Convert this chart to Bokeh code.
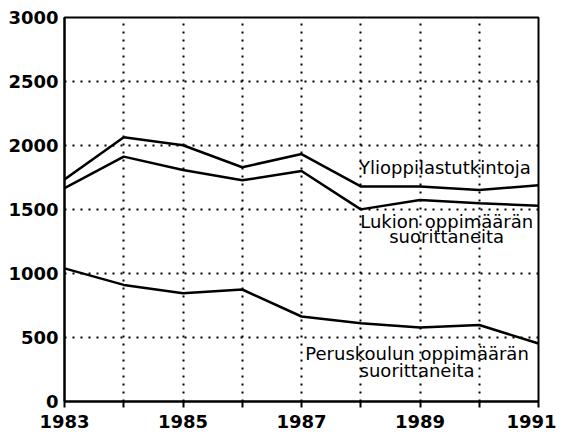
from bokeh.plotting import figure
from bokeh.models import Range1d, FixedTicker
from bokeh.embed import file_html
from bokeh.resources import INLINE
from bokeh.core.properties import value

years = [1983, 1984, 1985, 1986, 1987, 1988, 1989, 1990, 1991]
ylioppilastutkintoja = [1735, 2065, 2002, 1830, 1933, 1680, 1680, 1652, 1690]
lukion_suorittaneita = [1666, 1913, 1809, 1728, 1801, 1501, 1574, 1548, 1530]
peruskoulun_suorittaneita = [1040, 911, 846, 875, 664, 612, 578, 598, 453]

x_tick_labels = [1983, 1985, 1987, 1989, 1991]
x_minor_ticks = [1984, 1986, 1988, 1990]
y_ticks = [0, 500, 1000, 1500, 2000, 2500, 3000]

label_texts = ["Ylioppilastutkintoja", "Lukion oppimäärän", "suorittaneita",
               "Peruskoulun oppimäärän", "suorittaneita"]
label_x = [1989.42, 1989.45, 1989.45, 1988.95, 1988.95]
label_y = [1830, 1405, 1290, 372, 240]

p = figure(width=556, height=435, output_backend="svg", toolbar_location=None,
           x_range=Range1d(years[0], years[-1]), y_range=Range1d(y_ticks[0], y_ticks[-1]),
           min_border_left=64, min_border_right=18, min_border_top=17, min_border_bottom=34)

p.background_fill_color = "white"
p.border_fill_color = "white"
p.outline_line_color = "black"
p.outline_line_width = 2

# grids
p.xgrid.ticker = FixedTicker(ticks=years[1:-1])
p.ygrid.ticker = FixedTicker(ticks=y_ticks[1:-1])
for g in (p.xgrid, p.ygrid):
    g.grid_line_color = "black"
    g.grid_line_width = 2
    g.grid_line_dash = "2 6"

# axes
p.xaxis.ticker = FixedTicker(ticks=x_tick_labels, minor_ticks=x_minor_ticks)
p.yaxis.ticker = FixedTicker(ticks=y_ticks)
for ax in (p.xaxis, p.yaxis):
    ax.axis_line_color = "black"
    ax.axis_line_width = 2
    ax.major_tick_line_color = "black"
    ax.major_tick_line_width = 2
    ax.minor_tick_line_color = "black"
    ax.minor_tick_line_width = 2
    ax.major_label_text_font = "DejaVu Sans"
    ax.major_label_text_font_style = "bold"
    ax.major_label_text_font_size = "18px"
    ax.major_label_text_color = "black"
p.xaxis.major_tick_in = 0
p.xaxis.major_tick_out = 6
p.xaxis.minor_tick_in = 0
p.xaxis.minor_tick_out = 6
p.xaxis.major_label_standoff = 7
p.yaxis.major_tick_in = 0
p.yaxis.major_tick_out = 0
p.yaxis.minor_tick_out = 0
p.yaxis.minor_tick_in = 0
p.yaxis.major_label_standoff = 6

for series in (ylioppilastutkintoja, lukion_suorittaneita, peruskoulun_suorittaneita):
    p.line(years, series, line_color="black", line_width=2.5)

p.text(x=label_x, y=label_y, text=label_texts, text_font=value("DejaVu Sans"),
       text_font_size="18px", text_align="center", text_baseline="alphabetic",
       text_color="black")

open("out.html", "w").write(file_html(p, INLINE))
